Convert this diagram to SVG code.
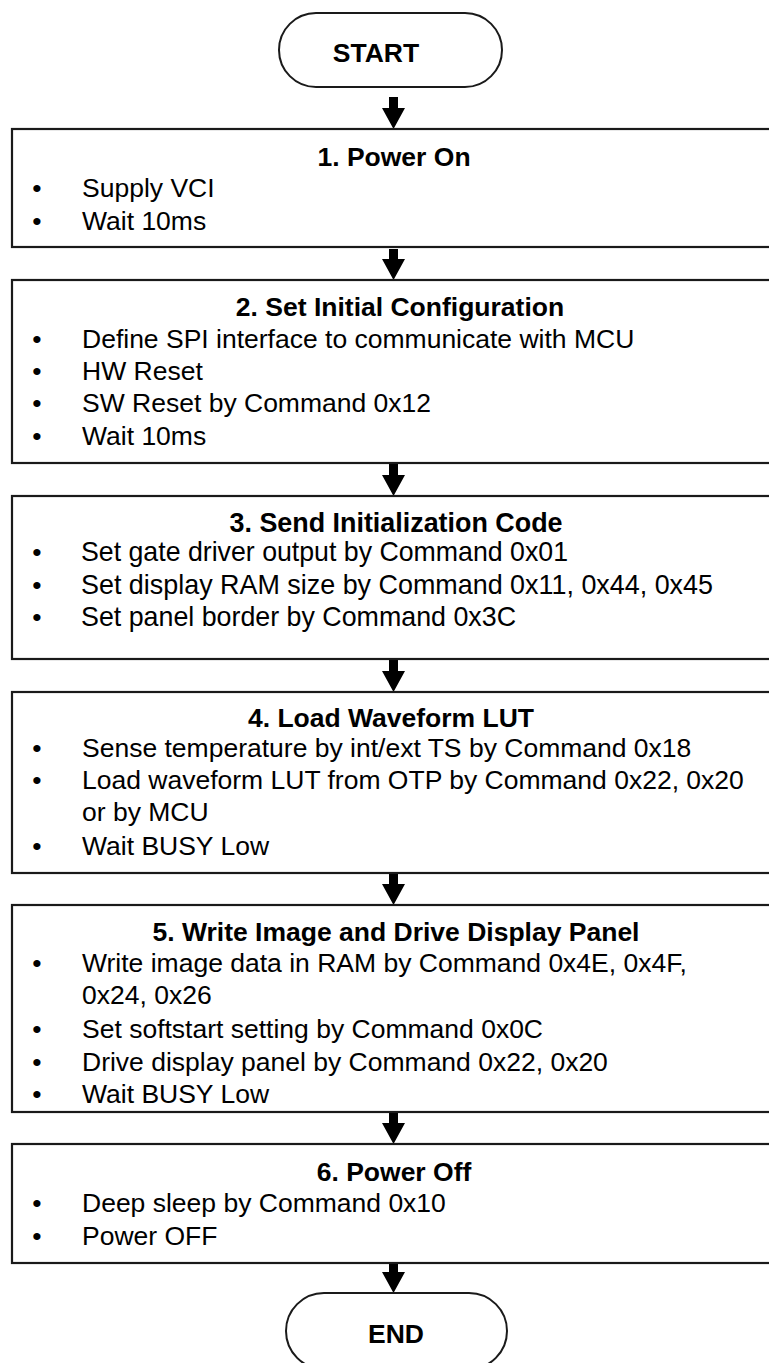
<svg xmlns="http://www.w3.org/2000/svg" width="769" height="1363" viewBox="0 0 769 1363">
<style>
.box{fill:#fff;stroke:#1a1a1a;stroke-width:2.2}
.term{fill:#fff;stroke:#1a1a1a;stroke-width:2}
.t{font-family:"Liberation Sans",Arial,sans-serif;font-size:26.5px;fill:#000}
.h{font-family:"Liberation Sans",Arial,sans-serif;font-size:26.5px;font-weight:bold;fill:#000;text-anchor:middle}
.b{font-family:"Liberation Sans",Arial,sans-serif;font-size:26.5px;fill:#000;text-anchor:middle}
.n{font-size:28.5px}
.arr{fill:#000}
</style>
<rect width="769" height="1363" fill="#fff"/>
<g id="connectors">
<polygon class="arr" points="389,97 398,97 398,108 405,108 393.5,129 382,108 389,108"/>
<polygon class="arr" points="389,249 398,249 398,259 405,259 393.5,280 382,259 389,259"/>
<polygon class="arr" points="389,464 398,464 398,475 405,475 393.5,496 382,475 389,475"/>
<polygon class="arr" points="389,660 398,660 398,671 405,671 393.5,692 382,671 389,671"/>
<polygon class="arr" points="389,874 398,874 398,884 405,884 393.5,905 382,884 389,884"/>
<polygon class="arr" points="389,1113 398,1113 398,1123 405,1123 393.5,1144 382,1123 389,1123"/>
<polygon class="arr" points="389,1264 398,1264 398,1272 405,1272 393.5,1293 382,1272 389,1272"/>
</g>
<g id="start">
<rect class="term" x="279" y="13" width="223" height="74" rx="37" ry="37"/>
<text class="h" x="376" y="62">START</text>
</g>
<g id="step1">
<rect class="box" x="12" y="129" width="762" height="118"/>
<text class="h" x="394" y="166">1. Power On</text>
<text class="b" x="37" y="197">•</text><text class="t" x="82" y="197">Supply VCI</text>
<text class="b" x="37" y="230">•</text><text class="t" x="82" y="230">Wait 10ms</text>
</g>
<g id="step2">
<rect class="box" x="12" y="280" width="762" height="183"/>
<text class="h" x="400" y="316">2. Set Initial Configuration</text>
<text class="b" x="37" y="348">•</text><text class="t" x="82" y="348">Define SPI interface to communicate with MCU</text>
<text class="b" x="37" y="380">•</text><text class="t" x="82" y="380">HW Reset</text>
<text class="b" x="37" y="412">•</text><text class="t" x="82" y="412">SW Reset by Command 0x12</text>
<text class="b" x="37" y="445">•</text><text class="t" x="82" y="445">Wait 10ms</text>
</g>
<g id="step3">
<rect class="box" x="12" y="496" width="762" height="163"/>
<text class="h n" x="396" y="532" textLength="333" lengthAdjust="spacingAndGlyphs">3. Send Initialization Code</text>
<text class="b" x="37" y="561">•</text><text class="t n" x="81" y="561" textLength="487" lengthAdjust="spacingAndGlyphs">Set gate driver output by Command 0x01</text>
<text class="b" x="37" y="594">•</text><text class="t n" x="81" y="594" textLength="632" lengthAdjust="spacingAndGlyphs">Set display RAM size by Command 0x11, 0x44, 0x45</text>
<text class="b" x="37" y="626">•</text><text class="t n" x="81" y="626" textLength="435" lengthAdjust="spacingAndGlyphs">Set panel border by Command 0x3C</text>
</g>
<g id="step4">
<rect class="box" x="12" y="692" width="762" height="181"/>
<text class="h" x="391" y="727">4. Load Waveform LUT</text>
<text class="b" x="37" y="757">•</text><text class="t" x="82" y="757">Sense temperature by int/ext TS by Command 0x18</text>
<text class="b" x="37" y="789">•</text><text class="t" x="82" y="789">Load waveform LUT from OTP by Command 0x22, 0x20</text>
<text class="t" x="82" y="821">or by MCU</text>
<text class="b" x="37" y="855">•</text><text class="t" x="82" y="855">Wait BUSY Low</text>
</g>
<g id="step5">
<rect class="box" x="12" y="905" width="762" height="207"/>
<text class="h" x="396" y="941">5. Write Image and Drive Display Panel</text>
<text class="b" x="37" y="972">•</text><text class="t" x="82" y="972">Write image data in RAM by Command 0x4E, 0x4F,</text>
<text class="t" x="82" y="1004">0x24, 0x26</text>
<text class="b" x="37" y="1038">•</text><text class="t" x="82" y="1038">Set softstart setting by Command 0x0C</text>
<text class="b" x="37" y="1071">•</text><text class="t" x="82" y="1071">Drive display panel by Command 0x22, 0x20</text>
<text class="b" x="37" y="1103">•</text><text class="t" x="82" y="1103">Wait BUSY Low</text>
</g>
<g id="step6">
<rect class="box" x="12" y="1144" width="762" height="119"/>
<text class="h" x="394" y="1181">6. Power Off</text>
<text class="b" x="37" y="1212">•</text><text class="t" x="82" y="1212">Deep sleep by Command 0x10</text>
<text class="b" x="37" y="1245">•</text><text class="t" x="82" y="1245">Power OFF</text>
</g>
<g id="end">
<rect class="term" x="286" y="1293" width="221" height="76" rx="38" ry="38"/>
<text class="h" x="396" y="1343">END</text>
</g>
</svg>
